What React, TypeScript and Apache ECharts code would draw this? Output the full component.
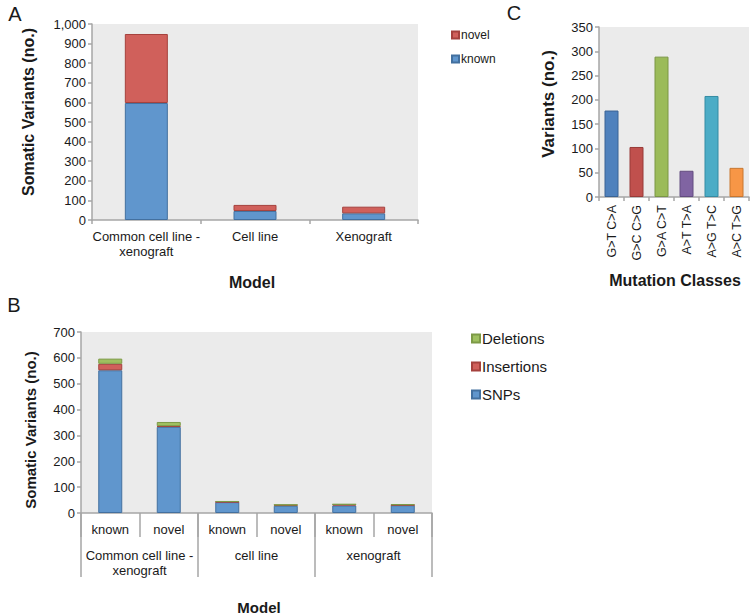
import React, { useEffect, useRef } from 'react';
import * as echarts from 'echarts';

// Panel A
const modelCategoriesA = ['Common cell line -\nxenograft', 'Cell line', 'Xenograft'];
const knownA = [597, 46, 34];
const novelA = [352, 31, 34];
const yTicksA = { min: 0, max: 1000, interval: 100 };

// Panel B
const subCategoriesB = ['known', 'novel', 'known', 'novel', 'known', 'novel'];
const groupCategoriesB = ['Common cell line -\nxenograft', 'cell line', 'xenograft'];
const snpsB = [552, 333, 42, 28, 29, 30];
const insertionsB = [25, 3, 1, 3, 4, 1];
const deletionsB = [20, 16, 3, 1, 1, 3];
const yTicksB = { min: 0, max: 700, interval: 100 };

// Panel C
const mutationClassesC = ['G>T C>A', 'G>C C>G', 'G>A C>T', 'A>T T>A', 'A>G T>C', 'A>C T>G'];
const variantsC = [178, 103, 289, 54, 208, 60];
const yTicksC = { min: 0, max: 350, interval: 50 };

const colorsC = ['#4F81BD', '#C0504D', '#9BBB59', '#8064A2', '#4BACC6', '#F79646'];
const bordersC = ['#3A6394', '#983B38', '#7A9645', '#634C80', '#358BA3', '#C8762F'];

const FONT = 'Liberation Sans';
const AXIS_GRAY = '#A6A6A6';
const TEXT = '#1a1a1a';
const BLUE = { color: '#6096CD', borderColor: '#43709F', borderWidth: 1 };
const RED = { color: '#D0605B', borderColor: '#A5413D', borderWidth: 1 };
const GREEN = { color: '#9FC060', borderColor: '#7D9A46', borderWidth: 1 };

function catAxis(gridIndex: number, data: string[], extra: any = {}) {
  return {
    type: 'category',
    gridIndex,
    data,
    axisLine: { show: true, lineStyle: { color: AXIS_GRAY, width: 1.5 } },
    axisTick: { show: true, length: 4, lineStyle: { color: AXIS_GRAY, width: 1.5 } },
    axisLabel: { color: TEXT, fontSize: 13, fontFamily: FONT, margin: 9, lineHeight: 15, interval: 0 },
    ...extra,
  };
}

function valAxis(gridIndex: number, t: { min: number; max: number; interval: number }, extra: any = {}) {
  return {
    type: 'value',
    gridIndex,
    min: t.min,
    max: t.max,
    interval: t.interval,
    splitLine: { show: false },
    axisLine: { show: true, lineStyle: { color: AXIS_GRAY, width: 1.5 } },
    axisTick: { show: true, length: 4, lineStyle: { color: AXIS_GRAY, width: 1.5 } },
    axisLabel: { color: TEXT, fontSize: 13, fontFamily: FONT, margin: 6 },
    ...extra,
  };
}

function title(text: string, x: number, y: number, size: number, bold: boolean, rotate = false) {
  return {
    type: 'text',
    x,
    y,
    rotation: rotate ? Math.PI / 2 : 0,
    style: {
      text,
      fill: TEXT,
      fontFamily: FONT,
      fontSize: size,
      fontWeight: bold ? 'bold' : 'normal',
      align: 'center',
      verticalAlign: 'middle',
    },
  };
}

export default function App() {
  const ref = useRef<HTMLDivElement>(null);
  useEffect(() => {
    const chart = echarts.init(ref.current!, null, { renderer: 'svg' });
    const option: any = {
      animation: false,
      backgroundColor: '#ffffff',
      textStyle: { fontFamily: FONT },
      grid: [
        { left: 92, top: 24, width: 326, height: 196, show: true, backgroundColor: '#EBEBEB', borderWidth: 0 },
        { left: 81, top: 332, width: 351, height: 181, show: true, backgroundColor: '#EBEBEB', borderWidth: 0 },
        { left: 81, top: 332, width: 351, height: 181, show: false },
        { left: 599, top: 27, width: 150, height: 170, show: true, backgroundColor: '#EBEBEB', borderWidth: 0 },
      ],
      xAxis: [
        catAxis(0, modelCategoriesA),
        catAxis(1, subCategoriesB, {
          axisTick: { show: true, length: 24, lineStyle: { color: AXIS_GRAY, width: 1.5 } },
          axisLabel: { color: TEXT, fontSize: 13, fontFamily: FONT, margin: 10, interval: 0 },
        }),
        catAxis(2, groupCategoriesB, {
          axisLine: { show: false },
          axisTick: { show: true, length: 64, lineStyle: { color: AXIS_GRAY, width: 1.5 } },
          axisLabel: { color: TEXT, fontSize: 13, fontFamily: FONT, margin: 35, lineHeight: 15, interval: 0 },
        }),
        catAxis(3, mutationClassesC, {
          axisLabel: { color: TEXT, fontSize: 12.5, fontFamily: FONT, margin: 8, rotate: 90, interval: 0 },
        }),
      ],
      yAxis: [
        valAxis(0, yTicksA, {
          axisLabel: {
            color: TEXT, fontSize: 13, fontFamily: FONT, margin: 6,
            formatter: (v: number) => v.toLocaleString('en-US'),
          },
        }),
        valAxis(1, yTicksB),
        valAxis(2, yTicksB, { show: false }),
        valAxis(3, yTicksC),
      ],
      legend: [
        {
          data: ['novel', 'known'],
          orient: 'vertical',
          left: 446,
          top: 24,
          itemWidth: 7,
          itemHeight: 7,
          itemGap: 12,
          icon: 'rect',
          textStyle: { fontSize: 12, color: TEXT, fontFamily: FONT, padding: [0, 0, 0, -3] },
        },
        {
          data: ['Deletions', 'Insertions', 'SNPs'],
          orient: 'vertical',
          left: 466,
          top: 326,
          itemWidth: 8,
          itemHeight: 8,
          itemGap: 13,
          icon: 'rect',
          textStyle: { fontSize: 15, color: TEXT, fontFamily: FONT, padding: [0, 0, 0, -3] },
        },
      ],
      series: [
        { name: 'known', type: 'bar', stack: 'a', xAxisIndex: 0, yAxisIndex: 0, barWidth: 43, data: knownA, itemStyle: BLUE },
        { name: 'novel', type: 'bar', stack: 'a', xAxisIndex: 0, yAxisIndex: 0, barWidth: 43, data: novelA, itemStyle: RED },
        { name: 'SNPs', type: 'bar', stack: 'b', xAxisIndex: 1, yAxisIndex: 1, barWidth: 24, data: snpsB, itemStyle: BLUE },
        { name: 'Insertions', type: 'bar', stack: 'b', xAxisIndex: 1, yAxisIndex: 1, barWidth: 24, data: insertionsB, itemStyle: RED },
        { name: 'Deletions', type: 'bar', stack: 'b', xAxisIndex: 1, yAxisIndex: 1, barWidth: 24, data: deletionsB, itemStyle: GREEN },
        {
          name: 'Variants',
          type: 'bar',
          xAxisIndex: 3,
          yAxisIndex: 3,
          barWidth: 14,
          data: variantsC.map((v, i) => ({
            value: v,
            itemStyle: { color: colorsC[i], borderColor: bordersC[i], borderWidth: 1 },
          })),
        },
      ],
      graphic: [
        title('A', 15, 14, 20, false),
        title('B', 14, 305, 20, false),
        title('C', 514, 13, 20, false),
        title('Somatic Variants (no.)', 28, 112, 16, true, true),
        title('Model', 252, 282, 16, true),
        title('Somatic Variants (no.)', 30, 430, 15, true, true),
        title('Model', 259, 607, 15, true),
        title('Variants (no.)', 548, 104, 17, true, true),
        title('Mutation Classes', 675, 280, 16, true),
      ],
    };
    chart.setOption(option);
    return () => chart.dispose();
  }, []);
  return (
    <div
      ref={ref}
      style={{ position: 'absolute', left: 0, top: 0, width: 754, height: 616, background: '#fff' }}
    />
  );
}
